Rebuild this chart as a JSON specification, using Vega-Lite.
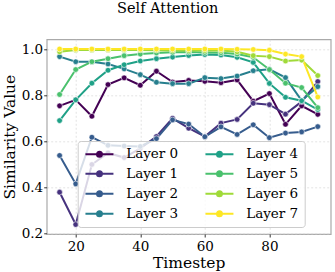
{
  "$schema": "https://vega.github.io/schema/vega-lite/v6.json",
  "autosize": {"type": "none"},
  "padding": {"left": 46.7, "top": 39.3, "right": 4.3, "bottom": 38},
  "width": 284,
  "height": 194.7,
  "background": "white",
  "title": {"text": "Self Attention", "font": "DejaVu Serif", "fontSize": 14.5, "fontWeight": "normal", "color": "black", "anchor": "middle", "frame": "group", "dx": -21, "offset": 23},
  "config": {
    "view": {"stroke": "#aaaaaa", "strokeWidth": 1.2},
    "axis": {"labelFont": "DejaVu Serif", "labelFontSize": 13.5, "labelColor": "black", "titleFont": "DejaVu Serif", "titleFontSize": 15.5, "titleFontWeight": "normal", "titleColor": "black", "domain": false, "tickColor": "#333333", "tickSize": 3, "grid": true, "gridDash": [2, 2], "gridColor": "#dcdcdc", "gridWidth": 0.8}
  },
  "data": {"values": [
    {"layer": "Layer 0", "t": 15, "v": 0.754}, {"layer": "Layer 0", "t": 20, "v": 0.78}, {"layer": "Layer 0", "t": 25, "v": 0.709}, {"layer": "Layer 0", "t": 30, "v": 0.846}, {"layer": "Layer 0", "t": 35, "v": 0.875}, {"layer": "Layer 0", "t": 40, "v": 0.843}, {"layer": "Layer 0", "t": 45, "v": 0.904}, {"layer": "Layer 0", "t": 50, "v": 0.857}, {"layer": "Layer 0", "t": 55, "v": 0.864}, {"layer": "Layer 0", "t": 60, "v": 0.86}, {"layer": "Layer 0", "t": 65, "v": 0.854}, {"layer": "Layer 0", "t": 70, "v": 0.866}, {"layer": "Layer 0", "t": 75, "v": 0.774}, {"layer": "Layer 0", "t": 80, "v": 0.807}, {"layer": "Layer 0", "t": 85, "v": 0.674}, {"layer": "Layer 0", "t": 90, "v": 0.754}, {"layer": "Layer 0", "t": 95, "v": 0.717},
    {"layer": "Layer 1", "t": 15, "v": 0.38}, {"layer": "Layer 1", "t": 20, "v": 0.24}, {"layer": "Layer 1", "t": 25, "v": 0.5}, {"layer": "Layer 1", "t": 30, "v": 0.55}, {"layer": "Layer 1", "t": 35, "v": 0.53}, {"layer": "Layer 1", "t": 40, "v": 0.57}, {"layer": "Layer 1", "t": 45, "v": 0.621}, {"layer": "Layer 1", "t": 50, "v": 0.70}, {"layer": "Layer 1", "t": 55, "v": 0.657}, {"layer": "Layer 1", "t": 60, "v": 0.621}, {"layer": "Layer 1", "t": 65, "v": 0.679}, {"layer": "Layer 1", "t": 70, "v": 0.695}, {"layer": "Layer 1", "t": 75, "v": 0.765}, {"layer": "Layer 1", "t": 80, "v": 0.759}, {"layer": "Layer 1", "t": 85, "v": 0.718}, {"layer": "Layer 1", "t": 90, "v": 0.772}, {"layer": "Layer 1", "t": 95, "v": 0.859},
    {"layer": "Layer 2", "t": 15, "v": 0.539}, {"layer": "Layer 2", "t": 20, "v": 0.416}, {"layer": "Layer 2", "t": 25, "v": 0.618}, {"layer": "Layer 2", "t": 30, "v": 0.583}, {"layer": "Layer 2", "t": 35, "v": 0.58}, {"layer": "Layer 2", "t": 40, "v": 0.578}, {"layer": "Layer 2", "t": 45, "v": 0.612}, {"layer": "Layer 2", "t": 50, "v": 0.693}, {"layer": "Layer 2", "t": 55, "v": 0.675}, {"layer": "Layer 2", "t": 60, "v": 0.62}, {"layer": "Layer 2", "t": 65, "v": 0.663}, {"layer": "Layer 2", "t": 70, "v": 0.63}, {"layer": "Layer 2", "t": 75, "v": 0.672}, {"layer": "Layer 2", "t": 80, "v": 0.616}, {"layer": "Layer 2", "t": 85, "v": 0.636}, {"layer": "Layer 2", "t": 90, "v": 0.641}, {"layer": "Layer 2", "t": 95, "v": 0.664},
    {"layer": "Layer 3", "t": 15, "v": 0.967}, {"layer": "Layer 3", "t": 20, "v": 0.945}, {"layer": "Layer 3", "t": 25, "v": 0.945}, {"layer": "Layer 3", "t": 30, "v": 0.935}, {"layer": "Layer 3", "t": 35, "v": 0.914}, {"layer": "Layer 3", "t": 40, "v": 0.889}, {"layer": "Layer 3", "t": 45, "v": 0.856}, {"layer": "Layer 3", "t": 50, "v": 0.85}, {"layer": "Layer 3", "t": 55, "v": 0.85}, {"layer": "Layer 3", "t": 60, "v": 0.876}, {"layer": "Layer 3", "t": 65, "v": 0.872}, {"layer": "Layer 3", "t": 70, "v": 0.883}, {"layer": "Layer 3", "t": 75, "v": 0.906}, {"layer": "Layer 3", "t": 80, "v": 0.912}, {"layer": "Layer 3", "t": 85, "v": 0.876}, {"layer": "Layer 3", "t": 90, "v": 0.777}, {"layer": "Layer 3", "t": 95, "v": 0.837},
    {"layer": "Layer 4", "t": 15, "v": 0.69}, {"layer": "Layer 4", "t": 20, "v": 0.78}, {"layer": "Layer 4", "t": 25, "v": 0.852}, {"layer": "Layer 4", "t": 30, "v": 0.908}, {"layer": "Layer 4", "t": 35, "v": 0.932}, {"layer": "Layer 4", "t": 40, "v": 0.948}, {"layer": "Layer 4", "t": 45, "v": 0.958}, {"layer": "Layer 4", "t": 50, "v": 0.965}, {"layer": "Layer 4", "t": 55, "v": 0.972}, {"layer": "Layer 4", "t": 60, "v": 0.976}, {"layer": "Layer 4", "t": 65, "v": 0.974}, {"layer": "Layer 4", "t": 70, "v": 0.964}, {"layer": "Layer 4", "t": 75, "v": 0.942}, {"layer": "Layer 4", "t": 80, "v": 0.851}, {"layer": "Layer 4", "t": 85, "v": 0.791}, {"layer": "Layer 4", "t": 90, "v": 0.776}, {"layer": "Layer 4", "t": 95, "v": 0.738},
    {"layer": "Layer 5", "t": 15, "v": 0.803}, {"layer": "Layer 5", "t": 20, "v": 0.911}, {"layer": "Layer 5", "t": 25, "v": 0.945}, {"layer": "Layer 5", "t": 30, "v": 0.958}, {"layer": "Layer 5", "t": 35, "v": 0.971}, {"layer": "Layer 5", "t": 40, "v": 0.978}, {"layer": "Layer 5", "t": 45, "v": 0.983}, {"layer": "Layer 5", "t": 50, "v": 0.986}, {"layer": "Layer 5", "t": 55, "v": 0.987}, {"layer": "Layer 5", "t": 60, "v": 0.985}, {"layer": "Layer 5", "t": 65, "v": 0.984}, {"layer": "Layer 5", "t": 70, "v": 0.978}, {"layer": "Layer 5", "t": 75, "v": 0.964}, {"layer": "Layer 5", "t": 80, "v": 0.911}, {"layer": "Layer 5", "t": 85, "v": 0.852}, {"layer": "Layer 5", "t": 90, "v": 0.833}, {"layer": "Layer 5", "t": 95, "v": 0.746},
    {"layer": "Layer 6", "t": 15, "v": 0.988}, {"layer": "Layer 6", "t": 20, "v": 0.996}, {"layer": "Layer 6", "t": 25, "v": 0.996}, {"layer": "Layer 6", "t": 30, "v": 0.996}, {"layer": "Layer 6", "t": 35, "v": 0.996}, {"layer": "Layer 6", "t": 40, "v": 0.996}, {"layer": "Layer 6", "t": 45, "v": 0.995}, {"layer": "Layer 6", "t": 50, "v": 0.994}, {"layer": "Layer 6", "t": 55, "v": 0.993}, {"layer": "Layer 6", "t": 60, "v": 0.993}, {"layer": "Layer 6", "t": 65, "v": 0.993}, {"layer": "Layer 6", "t": 70, "v": 0.988}, {"layer": "Layer 6", "t": 75, "v": 0.971}, {"layer": "Layer 6", "t": 80, "v": 0.967}, {"layer": "Layer 6", "t": 85, "v": 0.948}, {"layer": "Layer 6", "t": 90, "v": 0.952}, {"layer": "Layer 6", "t": 95, "v": 0.885},
    {"layer": "Layer 7", "t": 15, "v": 1.0}, {"layer": "Layer 7", "t": 20, "v": 1.0}, {"layer": "Layer 7", "t": 25, "v": 1.0}, {"layer": "Layer 7", "t": 30, "v": 1.0}, {"layer": "Layer 7", "t": 35, "v": 1.0}, {"layer": "Layer 7", "t": 40, "v": 1.0}, {"layer": "Layer 7", "t": 45, "v": 1.0}, {"layer": "Layer 7", "t": 50, "v": 1.0}, {"layer": "Layer 7", "t": 55, "v": 1.0}, {"layer": "Layer 7", "t": 60, "v": 1.0}, {"layer": "Layer 7", "t": 65, "v": 1.0}, {"layer": "Layer 7", "t": 70, "v": 0.999}, {"layer": "Layer 7", "t": 75, "v": 0.998}, {"layer": "Layer 7", "t": 80, "v": 0.995}, {"layer": "Layer 7", "t": 85, "v": 0.978}, {"layer": "Layer 7", "t": 90, "v": 0.967}, {"layer": "Layer 7", "t": 95, "v": 0.792}
  ]},
  "encoding": {
    "x": {"field": "t", "type": "quantitative", "scale": {"domain": [11, 99], "nice": false, "zero": false}, "axis": {"values": [20, 40, 60, 80], "title": "Timestep", "labelPadding": 2.5, "titlePadding": 2}},
    "y": {"field": "v", "type": "quantitative", "scale": {"domain": [0.199, 1.042], "nice": false, "zero": false}, "axis": {"values": [0.2, 0.4, 0.6, 0.8, 1.0], "format": ".1f", "title": "Similarity Value", "labelPadding": 1, "titlePadding": 4}},
    "color": {"field": "layer", "type": "nominal",
      "scale": {"domain": ["Layer 0", "Layer 4", "Layer 1", "Layer 5", "Layer 2", "Layer 6", "Layer 3", "Layer 7"], "range": ["#440154", "#1fa187", "#46327e", "#4ac16d", "#365c8d", "#a0da39", "#277f8e", "#fde725"]}}
  },
  "layer": [
    {"mark": {"type": "line", "strokeWidth": 2},
     "encoding": {"color": {"field": "layer", "type": "nominal",
       "legend": {"orient": "none", "legendX": 31, "legendY": 101.7, "direction": "horizontal", "columns": 2, "title": null,
         "symbolType": "M-1,0H4.6M1.3,0A0.5,0.5,0,1,0,2.3,0A0.5,0.5,0,1,0,1.3,0Z", "symbolSize": 100, "symbolStrokeWidth": 2,
         "labelFont": "DejaVu Serif", "labelFontSize": 13.5, "labelColor": "black", "labelOffset": 29, "columnPadding": 22, "rowPadding": 5,
         "padding": 6, "strokeColor": "#cccccc", "fillColor": "rgba(255,255,255,0.8)", "cornerRadius": 3,
         "encode": {"symbols": {"update": {"fill": {"scale": "color", "field": "value"}, "stroke": {"scale": "color", "field": "value"}}}}}}}},
    {"mark": {"type": "point", "filled": true, "size": 32, "opacity": 1, "stroke": "white", "strokeWidth": 0.6},
     "encoding": {"color": {"field": "layer", "type": "nominal", "legend": null}}}
  ]
}
